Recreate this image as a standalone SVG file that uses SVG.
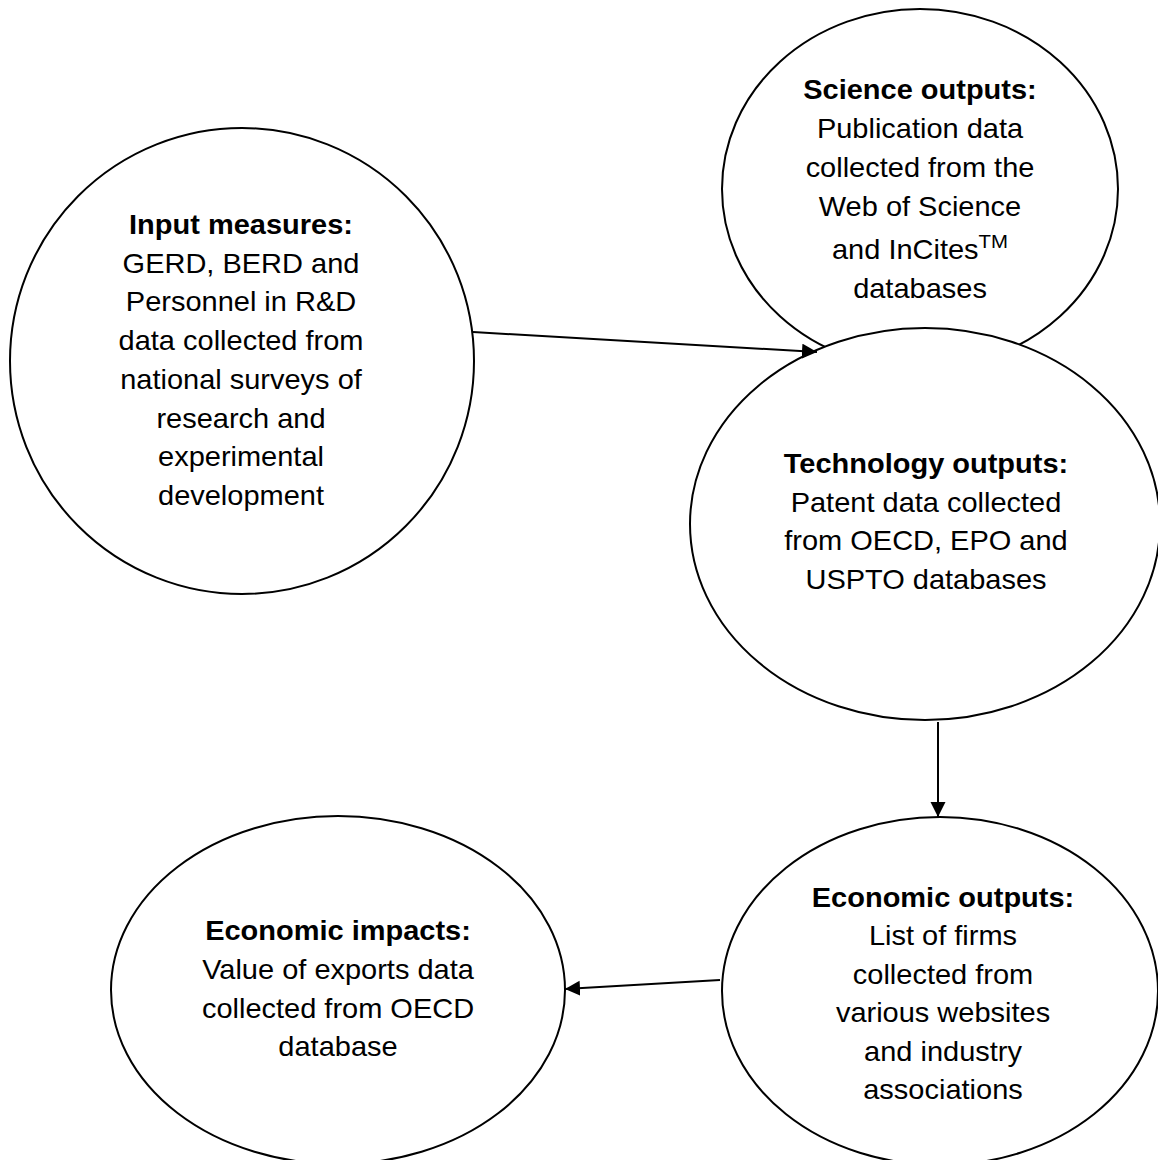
<svg xmlns="http://www.w3.org/2000/svg" width="1158" height="1160" viewBox="0 0 1158 1160">
  <style>
    .node { fill: #ffffff; stroke: #000000; stroke-width: 2; }
    .lbl { font-family: "Liberation Sans", Arial, sans-serif; font-size: 27px; fill: #000000; text-anchor: middle; }
    .ttl { font-weight: bold; }
    .sup { font-size: 19px; }
    .edge { fill: none; stroke: #000000; stroke-width: 2; }
  </style>
  <defs>
    <marker id="arrowhead" markerUnits="userSpaceOnUse" markerWidth="16" markerHeight="16" refX="15" refY="7.5" orient="auto">
      <path d="M0,0 L15,7.5 L0,15 z" fill="#000000"/>
    </marker>
  </defs>
  <rect x="0" y="0" width="1158" height="1160" fill="#ffffff"/>

  <!-- Input measures -->
  <g id="node-input">
    <ellipse class="node" cx="242" cy="361" rx="232" ry="233"/>
    <g transform="translate(241 0) scale(1.074 1)">
      <text class="lbl ttl" x="0" y="234">Input measures:</text>
      <text class="lbl" x="0" y="272.8">GERD, BERD and</text>
      <text class="lbl" x="0" y="311.5">Personnel in R&amp;D</text>
      <text class="lbl" x="0" y="350.3">data collected from</text>
      <text class="lbl" x="0" y="389">national surveys of</text>
      <text class="lbl" x="0" y="427.8">research and</text>
      <text class="lbl" x="0" y="466.5">experimental</text>
      <text class="lbl" x="0" y="505.3">development</text>
    </g>
  </g>

  <!-- Science outputs -->
  <g id="node-science">
    <ellipse class="node" cx="920" cy="189" rx="198" ry="180"/>
    <g transform="translate(920 0) scale(1.074 1)">
      <text class="lbl ttl" x="0" y="99.3">Science outputs:</text>
      <text class="lbl" x="0" y="138.3">Publication data</text>
      <text class="lbl" x="0" y="176.7">collected from the</text>
      <text class="lbl" x="0" y="216">Web of Science</text>
      <text class="lbl" x="0" y="259.3">and InCites<tspan class="sup" dy="-11">TM</tspan></text>
      <text class="lbl" x="0" y="298.3">databases</text>
    </g>
  </g>

  <!-- Technology outputs (drawn over the lower part of Science outputs) -->
  <g id="node-technology">
    <ellipse class="node" cx="925" cy="524" rx="235" ry="196"/>
    <g transform="translate(926 0) scale(1.074 1)">
      <text class="lbl ttl" x="0" y="473.3">Technology outputs:</text>
      <text class="lbl" x="0" y="511.8">Patent data collected</text>
      <text class="lbl" x="0" y="550.5">from OECD, EPO and</text>
      <text class="lbl" x="0" y="589.5">USPTO databases</text>
    </g>
  </g>

  <!-- Economic outputs -->
  <g id="node-economic-outputs">
    <ellipse class="node" cx="940" cy="991" rx="218" ry="174"/>
    <g transform="translate(943 0) scale(1.074 1)">
      <text class="lbl ttl" x="0" y="906.8">Economic outputs:</text>
      <text class="lbl" x="0" y="945.3">List of firms</text>
      <text class="lbl" x="0" y="983.8">collected from</text>
      <text class="lbl" x="0" y="1022.3">various websites</text>
      <text class="lbl" x="0" y="1060.8">and industry</text>
      <text class="lbl" x="0" y="1099.3">associations</text>
    </g>
  </g>

  <!-- Economic impacts -->
  <g id="node-economic-impacts">
    <ellipse class="node" cx="338" cy="990" rx="227" ry="174"/>
    <g transform="translate(338 0) scale(1.074 1)">
      <text class="lbl ttl" x="0" y="940">Economic impacts:</text>
      <text class="lbl" x="0" y="979">Value of exports data</text>
      <text class="lbl" x="0" y="1018">collected from OECD</text>
      <text class="lbl" x="0" y="1056.5">database</text>
    </g>
  </g>

  <!-- Connectors -->
  <g id="connectors">
    <line class="edge" x1="473" y1="332" x2="817" y2="352" marker-end="url(#arrowhead)"/>
    <line class="edge" x1="938" y1="722" x2="938" y2="817" marker-end="url(#arrowhead)"/>
    <line class="edge" x1="720" y1="980" x2="565" y2="989" marker-end="url(#arrowhead)"/>
  </g>
</svg>
